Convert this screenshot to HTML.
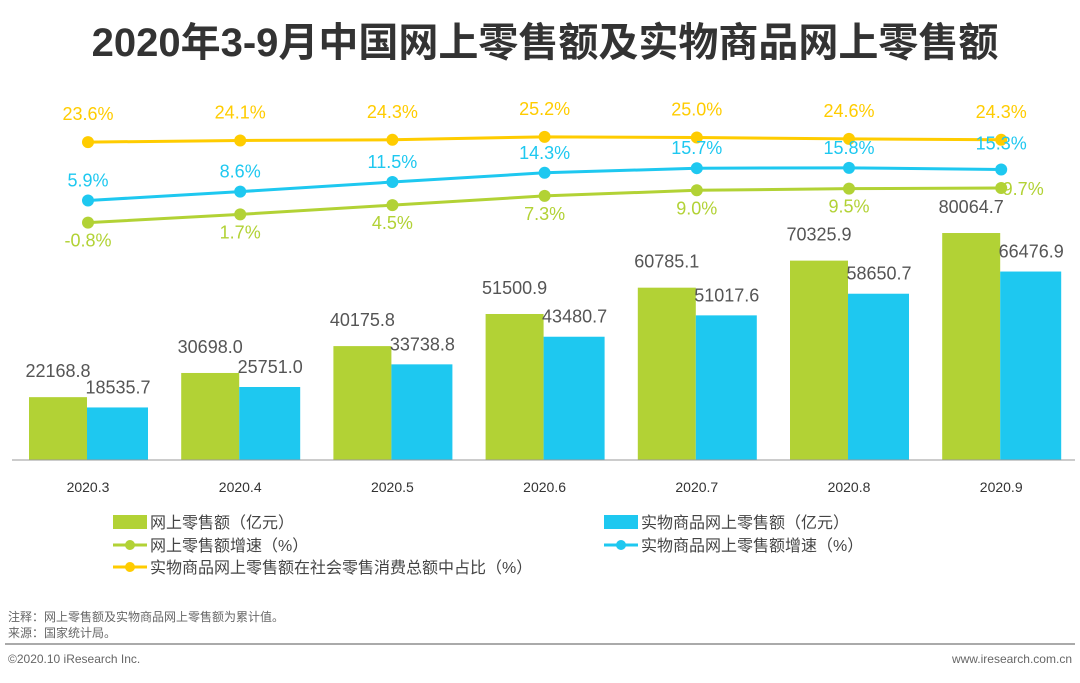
<!DOCTYPE html>
<html><head><meta charset="utf-8"><style>
body{margin:0;background:#fff;width:1080px;height:678px;overflow:hidden;font-family:"Liberation Sans","Noto Sans CJK SC",sans-serif}
</style></head><body>
<svg width="1080" height="678" xmlns="http://www.w3.org/2000/svg" style="font-family:'Liberation Sans','Noto Sans CJK SC',sans-serif">
<text x="545" y="56" text-anchor="middle" font-size="40" font-weight="bold" fill="#333">2020年3-9月中国网上零售额及实物商品网上零售额</text>
<g id="bars"></g><g id="lines"></g>
<line x1="12" y1="460" x2="1075" y2="460" stroke="#999" stroke-width="1"/>
<g id="xt"></g>
<g font-size="16" fill="#444">
<rect x="113" y="515" width="34" height="14" fill="#b2d235"/>
<text x="150" y="528">网上零售额（亿元）</text>
<rect x="604" y="515" width="34" height="14" fill="#1ec8f0"/>
<text x="641" y="528">实物商品网上零售额（亿元）</text>
<line x1="113" y1="545" x2="147" y2="545" stroke="#b2d235" stroke-width="3"/><circle cx="130" cy="545" r="5" fill="#b2d235"/>
<text x="150" y="551">网上零售额增速（%）</text>
<line x1="604" y1="545" x2="638" y2="545" stroke="#1ec8f0" stroke-width="3"/><circle cx="621" cy="545" r="5" fill="#1ec8f0"/>
<text x="641" y="551">实物商品网上零售额增速（%）</text>
<line x1="113" y1="567" x2="147" y2="567" stroke="#ffcc00" stroke-width="3"/><circle cx="130" cy="567" r="5" fill="#ffcc00"/>
<text x="150" y="573">实物商品网上零售额在社会零售消费总额中占比（%）</text>
</g>
<text x="8" y="621" font-size="12" fill="#666">注释：网上零售额及实物商品网上零售额为累计值。</text>
<text x="8" y="637" font-size="12" fill="#666">来源：国家统计局。</text>
<line x1="5" y1="644" x2="1075" y2="644" stroke="#aaa" stroke-width="2"/>
<text x="8" y="663" font-size="12" fill="#666">©2020.10 iResearch Inc.</text>
<text x="1072" y="663" font-size="12" fill="#666" text-anchor="end">www.iresearch.com.cn</text>
</svg>
<script>
const categories=["2020.3","2020.4","2020.5","2020.6","2020.7","2020.8","2020.9"];
const onlineSales=[22168.8,30698.0,40175.8,51500.9,60785.1,70325.9,80064.7];
const physicalSales=[18535.7,25751.0,33738.8,43480.7,51017.6,58650.7,66476.9];
const onlineGrowth=[-0.8,1.7,4.5,7.3,9.0,9.5,9.7];
const physicalGrowth=[5.9,8.6,11.5,14.3,15.7,15.8,15.3];
const shareRatio=[23.6,24.1,24.3,25.2,25.0,24.6,24.3];
const NS="http://www.w3.org/2000/svg";
const xc=i=>88+i*152.2;
const yb=v=>460-v*0.002835;
const yp=v=>220-v*3.3;
function mk(t,a,p){const e=document.createElementNS(NS,t);for(const k in a)e.setAttribute(k,a[k]);p.appendChild(e);return e;}
const bars=document.getElementById('bars'),lines=document.getElementById('lines'),xt=document.getElementById('xt');
categories.forEach((c,i)=>{
 const x=xc(i);
 let r=mk('rect',{x:x-59,y:yb(onlineSales[i]),width:58,height:460-yb(onlineSales[i]),fill:'#b2d235'},bars);
 
 
 r=mk('rect',{x:x-1,y:yb(physicalSales[i]),width:61,height:460-yb(physicalSales[i]),fill:'#1ec8f0'},bars);
 
 
 let t=mk('text',{x:x-30,y:yb(onlineSales[i])-20,'text-anchor':'middle','font-size':18,fill:'#555'},bars);t.textContent=onlineSales[i].toFixed(1);
 
 
 t=mk('text',{x:x+30,y:yb(physicalSales[i])-14,'text-anchor':'middle','font-size':18,fill:'#555'},bars);t.textContent=physicalSales[i].toFixed(1);
 
 
 t=mk('text',{x:x,y:492,'text-anchor':'middle','font-size':14,fill:'#333'},xt);t.textContent=c;
 
 
});
function series(vals,color,name,dy,last){
 const pts=vals.map((v,i)=>xc(i)+','+yp(v)).join(' ');
 const pl=mk('polyline',{points:pts,fill:'none',stroke:color,'stroke-width':3},lines);
 
 
 vals.forEach((v,i)=>{
  const c=mk('circle',{cx:xc(i),cy:yp(v),r:6,fill:color},lines);
  
  
  const isLast=i===vals.length-1&&last;
  const t=mk('text',{x:xc(i)+(isLast?last[0]:0),y:yp(v)+(isLast?last[1]:dy),'text-anchor':'middle','font-size':18,fill:color},lines);
  t.textContent=v.toFixed(1)+'%';
  
  
 });
}
series(shareRatio,'#ffcc00','share',-22,null);
series(physicalGrowth,'#1ec8f0','physical-growth',-14,[0,-20]);
series(onlineGrowth,'#b2d235','online-growth',24,[22,7]);
</script>
</body></html>
